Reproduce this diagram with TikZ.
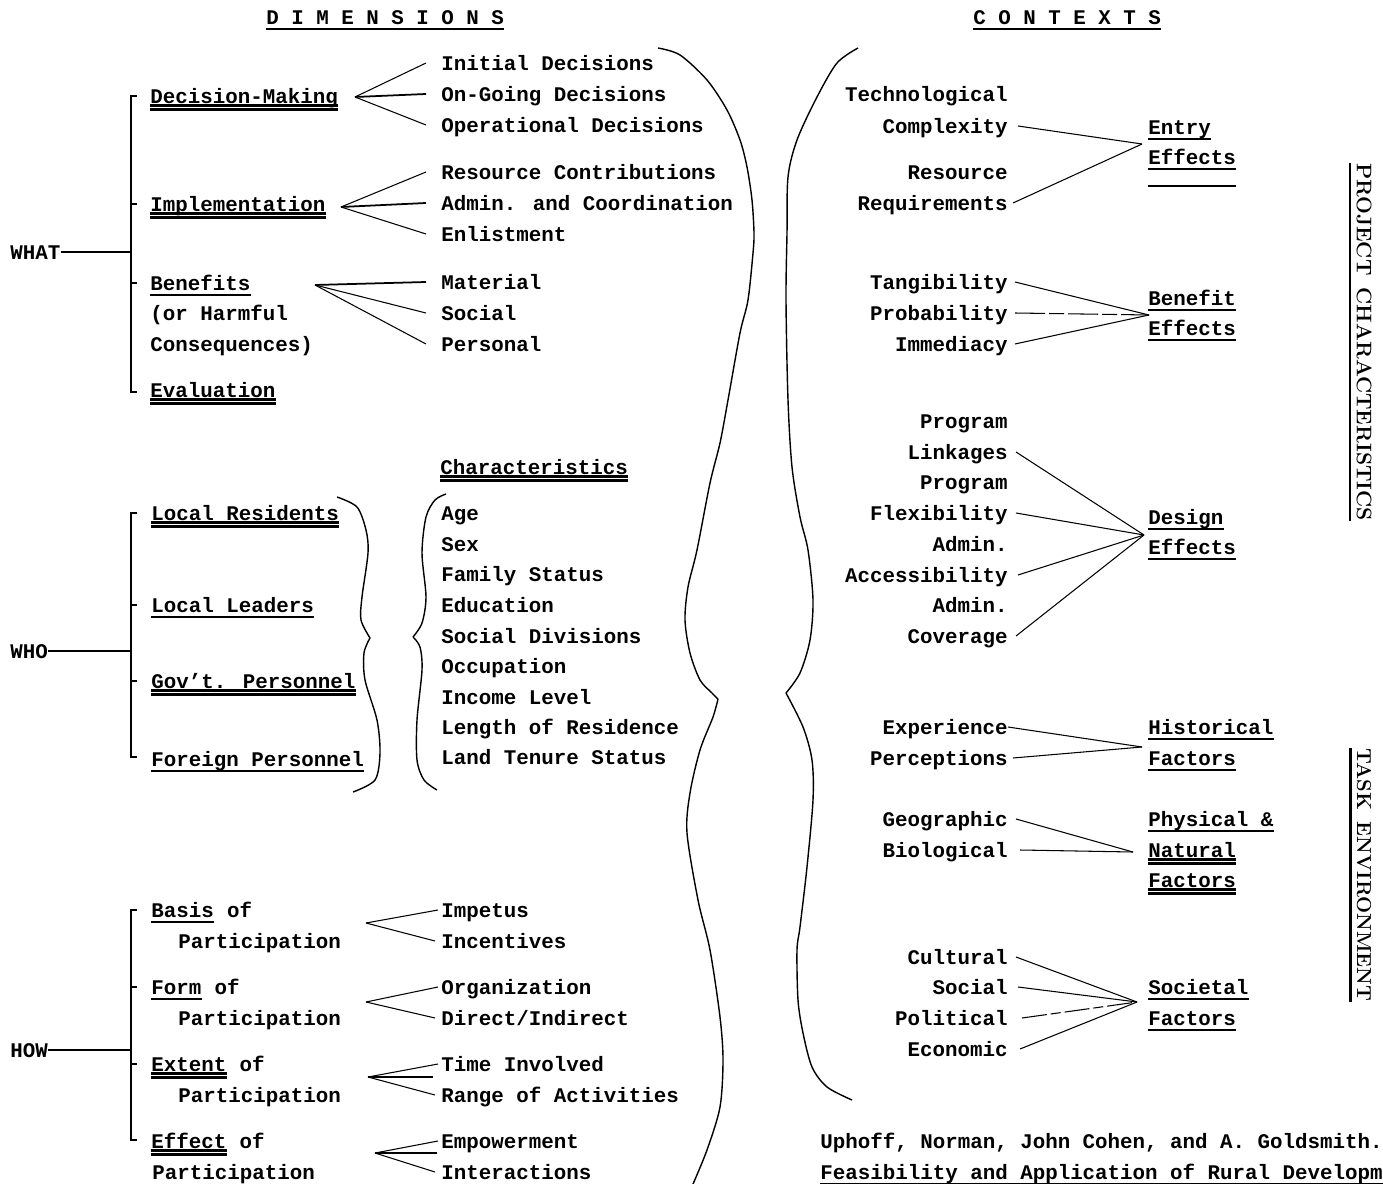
\documentclass[tikz,border=0pt]{standalone}
\usepackage{fontspec}
\usepackage{tikz}
\usetikzlibrary{positioning}
\newfontfamily\twfont{Liberation Mono}[UprightFont=* Bold]
\newcommand\hdfont{\rmfamily\bfseries}

\newcommand\under[1]{\draw[uline] ([yshift=-0.4mm]#1.south west) -- ([yshift=-0.4mm]#1.south east);}
\newcommand\dunder[1]{\draw[uline] ([yshift=0.1mm]#1.south west) -- ([yshift=0.1mm]#1.south east);
  \draw[uline] ([yshift=-0.7mm]#1.south west) -- ([yshift=-0.7mm]#1.south east);}

\begin{document}
\begin{tikzpicture}[x=0.2mm, y=-0.2mm,
  txt/.style = {font=\twfont\fontsize{11.85}{14}\selectfont, inner sep=0, text height=9.6pt, text depth=1.4pt, anchor=west},
  rtxt/.style = {txt, anchor=east},
  uline/.style = {line width=1.2pt},
  fanline/.style = {line width=0.6pt},
  brk/.style = {line width=1pt},
  curly/.style = {line width=0.8pt},
  rothead/.style = {rotate=-90, inner sep=0, font=\hdfont\fontsize{12}{14}\selectfont}]
\useasboundingbox (0,0) rectangle (1383,1184);

\node[txt] (dimh) at (266,17) {D I M E N S I O N S};
\node[txt] (conh) at (973,17) {C O N T E X T S};
\under{dimh} \under{conh}

% WHAT
\node[txt] (what) at (10,252) {WHAT};
\coordinate (whatbr) at (131,252);
\draw[brk] (what) -- (whatbr);
\draw[brk] (137,96) -- (131,96) -- (131,392) -- (137,392);
\draw[brk] (131,204) -- (137,204); \draw[brk] (131,283) -- (137,283);

\node[txt] (dm) at (150,96) {Decision-Making};
\node[txt] (impl) at (150,204) {Implementation};
\node[txt] (ben) at (150,283) {Benefits};
\node[txt] (ben2) at (150,313) {(or Harmful};
\node[txt] (ben3) at (150,344) {Consequences)};
\node[txt] (eval) at (150,390) {Evaluation};
\dunder{dm} \dunder{impl} \under{ben} \dunder{eval}

\node[txt] (ini) at (441,63) {Initial Decisions};
\node[txt] (ongo) at (441,94) {On-Going Decisions};
\node[txt] (oper) at (441,125) {Operational Decisions};
\node[txt] (res) at (441,172) {Resource Contributions};
\node[txt] (adm) at (441,203) {Admin. and Coordination};
\node[txt] (enl) at (441,234) {Enlistment};
\node[txt] (mat) at (441,282) {Material};
\node[txt] (soc) at (441,313) {Social};
\node[txt] (pers) at (441,344) {Personal};

\coordinate (dmfan) at (355,97);
\coordinate (implfan) at (341,207);
\coordinate (benfan) at (315,285);
\draw[fanline] (dmfan) -- ([xshift=-3mm]ini.west);
\draw[fanline, line width=1pt] (dmfan) -- ([xshift=-3mm]ongo.west);
\draw[fanline] (dmfan) -- ([xshift=-3mm]oper.west);
\draw[fanline] (implfan) -- ([xshift=-3mm]res.west);
\draw[fanline, line width=1pt] (implfan) -- ([xshift=-3mm]adm.west);
\draw[fanline] (implfan) -- ([xshift=-3mm]enl.west);
\draw[fanline, line width=1pt] (benfan) -- ([xshift=-3mm]mat.west);
\draw[fanline] (benfan) -- ([xshift=-3mm]soc.west);
\draw[fanline] (benfan) -- ([xshift=-3mm]pers.west);

% WHO
\node[txt] (who) at (10,651) {WHO};
\coordinate (whobr) at (131,651);
\draw[brk] (who) -- (whobr);
\draw[brk] (137,513) -- (131,513) -- (131,757) -- (137,757);
\draw[brk] (131,605) -- (137,605); \draw[brk] (131,681) -- (137,681);

\node[txt] (lres) at (151,513) {Local Residents};
\node[txt] (llead) at (151,605) {Local Leaders};
\node[txt] (govt) at (151,681) {Gov’t. Personnel};
\node[txt] (forg) at (151,759) {Foreign Personnel};
\dunder{lres} \under{llead} \dunder{govt} \under{forg}

\draw[curly] plot[smooth] coordinates {(337,497) (357,507) (366,530) (368,553) (362,597) (361,620) (370,638)};
\draw[curly] plot[smooth] coordinates {(370,638) (364,653) (365,680) (377,720) (380,753) (375,780) (353,792)};
\draw[curly] plot[smooth] coordinates {(446,494) (435,500) (426,517) (422,553) (426,597) (422,623) (413,637)};
\draw[curly] plot[smooth] coordinates {(413,637) (420,647) (422,670) (417,720) (417,760) (424,780) (437,790)};

\node[txt] (chars) at (440,467) {Characteristics};
\dunder{chars}
\node[txt] (age) at (441,513) {Age};
\node[txt] (sex) at (441,544) {Sex};
\node[txt] (fam) at (441,574) {Family Status};
\node[txt] (edu) at (441,605) {Education};
\node[txt] (div) at (441,636) {Social Divisions};
\node[txt] (occ) at (441,666) {Occupation};
\node[txt] (inc) at (441,697) {Income Level};
\node[txt] (len) at (441,727) {Length of Residence};
\node[txt] (land) at (441,757) {Land Tenure Status};

% HOW
\node[txt] (how) at (10,1050) {HOW};
\coordinate (howbr) at (131,1050);
\draw[brk] (how) -- (howbr);
\draw[brk] (137,910) -- (131,910) -- (131,1140) -- (137,1140);
\draw[brk] (131,987) -- (137,987); \draw[brk] (131,1064) -- (137,1064);

\node[txt] (bas) at (151,910) {Basis};
\node[txt, right=0pt of bas] (basof) {\ of};
\node[txt] (bas2) at (178,941) {Participation};
\node[txt] (form) at (151,987) {Form};
\node[txt, right=0pt of form] (formof) {\ of};
\node[txt] (form2) at (178,1018) {Participation};
\node[txt] (ext) at (151,1064) {Extent};
\node[txt, right=0pt of ext] (extof) {\ of};
\node[txt] (ext2) at (178,1095) {Participation};
\node[txt] (eff) at (151,1141) {Effect};
\node[txt, right=0pt of eff] (effof) {\ of};
\node[txt] (eff2) at (152,1172) {Participation};
\under{bas} \under{form} \dunder{ext} \dunder{eff}

\node[txt] (imp) at (441,910) {Impetus};
\node[txt] (incv) at (441,941) {Incentives};
\node[txt] (org) at (441,987) {Organization};
\node[txt] (dir) at (441,1018) {Direct/Indirect};
\node[txt] (time) at (441,1064) {Time Involved};
\node[txt] (rng) at (441,1095) {Range of Activities};
\node[txt] (emp) at (441,1141) {Empowerment};
\node[txt] (inter) at (441,1172) {Interactions};

\coordinate (basfan) at (366,923);
\coordinate (formfan) at (366,1002);
\coordinate (extfan) at (368,1077);
\coordinate (extmid) at (433,1077);
\coordinate (efffan) at (375,1153);
\coordinate (effmid) at (437,1153);
\draw[fanline] (basfan) -- ([xshift=-0.6mm]imp.west);
\draw[fanline] (basfan) -- ([xshift=-1.2mm]incv.west);
\draw[fanline] (formfan) -- ([xshift=-0.6mm]org.west);
\draw[fanline] (formfan) -- ([xshift=-1.2mm]dir.west);
\draw[fanline] (extfan) -- ([xshift=-0.6mm]time.west);
\draw[fanline, line width=1.1pt] (extfan) -- (extmid);
\draw[fanline] (extfan) -- ([xshift=-1.2mm]rng.west);
\draw[fanline] (efffan) -- ([xshift=-0.6mm]emp.west);
\draw[fanline, line width=1.1pt] (efffan) -- (effmid);
\draw[fanline] (efffan) -- ([xshift=-1.2mm]inter.west);

% big braces
\draw[curly] plot[smooth] coordinates {(658,48) (680,55) (707,80) (727,110) (740,140) (747,167) (752,200) (754,233) (753,253) (748,300) (740,333) (728,400) (720,443) (710,483) (697,550) (688,587) (685,620) (690,653) (700,680) (712,693) (718,699)};
\draw[curly] plot[smooth] coordinates {(718,699) (713,717) (700,750) (690,793) (687,833) (698,900) (710,950) (720,1017) (723,1060) (720,1107) (707,1150) (693,1184)};
\draw[curly] plot[smooth] coordinates {(858,48) (837,63) (817,97) (797,140) (788,177) (787,233) (786,300) (788,400) (792,467) (800,517) (808,550) (813,600) (810,640) (800,673) (786,693)};
\draw[curly] plot[smooth] coordinates {(786,693) (803,727) (812,760) (813,800) (807,867) (800,927) (797,950) (798,1000) (803,1033) (812,1067) (827,1087) (852,1100)};

% CONTEXTS
\node[rtxt] (tech) at (1008,94) {Technological};
\node[rtxt] (cplx) at (1008,126) {Complexity};
\node[rtxt] (reso) at (1008,172) {Resource};
\node[rtxt] (req) at (1008,203) {Requirements};
\node[txt] (entry) at (1148,127) {Entry};
\node[txt] (entry2) at (1148,157) {Effects};
\under{entry} \under{entry2}
\draw[uline] ([yshift=-3.85mm]entry2.south west) -- ([yshift=-3.85mm]entry2.south east);
\coordinate (entryfan) at (1142,144);
\draw[fanline] ([xshift=2mm]cplx.east) -- (entryfan);
\draw[fanline] ([xshift=1mm]req.east) -- (entryfan);

\node[rtxt] (tang) at (1008,282) {Tangibility};
\node[rtxt] (prob) at (1008,313) {Probability};
\node[rtxt] (immd) at (1008,344) {Immediacy};
\node[txt] (bnf) at (1148,298) {Benefit};
\node[txt] (bnf2) at (1148,328) {Effects};
\under{bnf} \under{bnf2}
\coordinate (bnffan) at (1149,315);
\draw[fanline] ([xshift=1.4mm]tang.east) -- (bnffan);
\draw[fanline, dash pattern=on 6mm off 0.8mm on 3mm off 0.8mm] ([xshift=1.4mm]prob.east) -- (bnffan);
\draw[fanline] ([xshift=1.4mm]immd.east) -- (bnffan);

\node[rtxt] (prg1) at (1008,421) {Program};
\node[rtxt] (link) at (1008,452) {Linkages};
\node[rtxt] (prg2) at (1008,482) {Program};
\node[rtxt] (flex) at (1008,513) {Flexibility};
\node[rtxt] (adm1) at (1008,544) {Admin.};
\node[rtxt] (acc) at (1008,575) {Accessibility};
\node[rtxt] (adm2) at (1008,605) {Admin.};
\node[rtxt] (cov) at (1008,636) {Coverage};
\node[txt] (dsg) at (1148,517) {Design};
\node[txt] (dsg2) at (1148,547) {Effects};
\under{dsg} \under{dsg2}
\coordinate (dsgfan) at (1144,535);
\draw[fanline] ([xshift=1.6mm]link.east) -- (dsgfan);
\draw[fanline] ([xshift=1.6mm]flex.east) -- (dsgfan);
\draw[fanline] ([xshift=2mm]acc.east) -- (dsgfan);
\draw[fanline] ([xshift=1.6mm]cov.east) -- (dsgfan);

\node[rtxt] (exp) at (1008,727) {Experience};
\node[rtxt] (perc) at (1008,758) {Perceptions};
\node[txt] (hist) at (1148,727) {Historical};
\node[txt] (hist2) at (1148,758) {Factors};
\under{hist} \under{hist2}
\coordinate (histfan) at (1142,747);
\draw[fanline] (exp.east) -- (histfan);
\draw[fanline] ([xshift=1mm]perc.east) -- (histfan);

\node[rtxt] (geo) at (1008,819) {Geographic};
\node[rtxt] (bio) at (1008,850) {Biological};
\node[txt] (phys) at (1148,819) {Physical \&};
\node[txt] (phys2) at (1148,850) {Natural};
\node[txt] (phys3) at (1148,880) {Factors};
\under{phys} \dunder{phys2} \dunder{phys3}
\coordinate (physfan) at (1133,852);
\draw[fanline] ([xshift=1.6mm]geo.east) -- (physfan);
\draw[fanline] ([xshift=2.4mm]bio.east) -- (physfan);

\node[rtxt] (cult) at (1008,957) {Cultural};
\node[rtxt] (csoc) at (1008,987) {Social};
\node[rtxt] (pol) at (1008,1018) {Political};
\node[rtxt] (econ) at (1008,1049) {Economic};
\node[txt] (sct) at (1148,987) {Societal};
\node[txt] (sct2) at (1148,1018) {Factors};
\under{sct} \under{sct2}
\coordinate (sctfan) at (1137,1002);
\draw[fanline] ([xshift=1.6mm]cult.east) -- (sctfan);
\draw[fanline] ([xshift=2mm]csoc.east) -- (sctfan);
\draw[fanline, dash pattern=on 5mm off 0.8mm on 2mm off 0.8mm] ([xshift=2.8mm]pol.east) -- (sctfan);
\draw[fanline] ([xshift=2.4mm]econ.east) -- (sctfan);

% side titles
\node[rothead] (projc) at (1364,342) {PROJECT\hspace{0.2em} CHARACTERISTICS};
\node[rothead, font=\hdfont\fontsize{11.5}{14}\selectfont] (taske) at (1364,875) {TASK\hspace{0.2em} ENVIRONMENT};
\draw[uline] ([xshift=-1.2mm]projc.south west) -- ([xshift=-1.2mm]projc.south east);
\draw[uline] ([xshift=-1.2mm]taske.south west) -- ([xshift=-1.2mm]taske.south east);

% reference
\node[txt] (cit1) at (820,1141) {Uphoff, Norman, John Cohen, and A. Goldsmith.};
\node[txt] (cit2) at (820,1172) {Feasibility and Application of Rural Developm};
\under{cit2}

\end{tikzpicture}
\end{document}
